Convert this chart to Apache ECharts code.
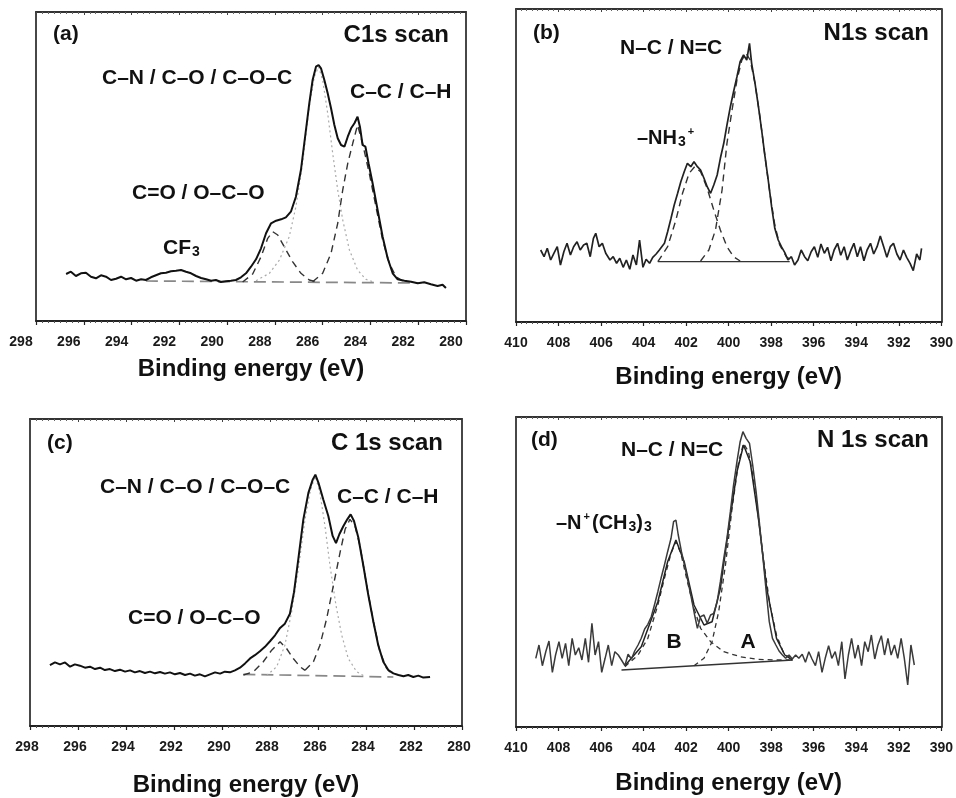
<!DOCTYPE html>
<html>
<head>
<meta charset="utf-8">
<script src="https://cdn.jsdelivr.net/npm/echarts@6/dist/echarts.min.js"></script>
<style>
html,body{margin:0;padding:0;background:#fff;}
#chart{width:956px;height:798px;}
</style>
</head>
<body>
<div id="chart"></div>
<script>
// ---- tick labels ----
const cTicks = [298, 296, 294, 292, 290, 288, 286, 284, 282, 280];
const nTicks = [410, 408, 406, 404, 402, 400, 398, 396, 394, 392, 390];

// ---- panel (a) C1s : [binding energy eV, intensity a.u.] ----
const aExp = [[296.74,47],[296.54,49.3],[296.33,45],[296.12,47.7],[295.91,48.3],[295.70,44.3],[295.49,42.7],[295.28,45.7],[295.07,44.3],[294.86,41],[294.65,42.3],[294.44,44.3],[294.23,41.7],[294.02,43],[293.81,40.3],[293.60,41.7],[293.40,41],[293.19,43.7],[292.98,45.7],[292.77,47.7],[292.56,48.3],[292.35,49.7],[292.14,50.3],[291.93,51],[291.72,49.3],[291.51,47.7],[291.30,45],[291.09,43],[290.88,41.7],[290.67,40.3],[290.47,41],[290.26,39],[290.05,39.7],[289.84,40.3],[289.63,41],[289.42,43.7],[289.21,47.7],[289.00,54.3],[288.79,61.7],[288.58,72.7],[288.37,87.7],[288.16,97.7],[287.95,100.3],[287.74,101.7],[287.54,103.7],[287.33,109.3],[287.12,124.3],[286.91,151],[286.70,191],[286.56,217.7],[286.42,241],[286.28,254.3],[286.17,256],[286.07,252.7],[285.93,241],[285.79,227.7],[285.65,212.7],[285.51,196],[285.37,182.7],[285.23,176],[285.09,174.3],[284.95,184.3],[284.81,192.7],[284.67,197.7],[284.54,204.3],[284.44,194.3],[284.33,176],[284.21,174.3],[284.08,157.7],[283.91,137.7],[283.70,111],[283.49,84.3],[283.28,62.7],[283.07,47.7],[282.86,41.7],[282.58,40.3],[282.30,39.3],[282.02,37.7],[281.75,38.7],[281.47,36.7],[281.19,35],[280.98,36.3],[280.84,33]];
const aCO = [[289.35,39],[288.93,47],[288.58,64.3],[288.30,82.7],[288.09,89.3],[287.88,86],[287.61,74.3],[287.26,59.3],[286.91,47.7],[286.56,41],[286.28,39.3]];
const aCN = [[288.79,40.3],[288.23,47.7],[287.81,61],[287.40,84.3],[287.12,114.3],[286.84,157.7],[286.56,214.3],[286.35,244.3],[286.17,254.3],[286.00,241],[285.79,207.7],[285.58,167.7],[285.37,131],[285.16,101],[284.88,71],[284.54,51],[284.19,41.7],[283.91,39.3]];
const aCC = [[286.42,39.3],[286.00,47.7],[285.65,67.7],[285.37,97.7],[285.16,131],[284.95,157.7],[284.74,177.7],[284.54,196],[284.33,177.7],[284.05,147.7],[283.77,114.3],[283.49,81],[283.21,57.7],[282.93,44.3],[282.65,40]];
const aBase = [[293.4,40],[282.0,38]];

// ---- panel (b) N1s ----
const bExp = [[408.84,72],[408.68,65.3],[408.53,73.7],[408.37,62],[408.22,68.7],[408.06,75.3],[407.91,57],[407.75,70.3],[407.60,78.7],[407.44,67],[407.29,75.3],[407.13,80.3],[406.98,72],[406.82,77],[406.67,78.7],[406.51,65.3],[406.36,83.7],[406.25,88.7],[406.09,75.3],[405.94,78.7],[405.78,68.7],[405.58,62],[405.43,65.3],[405.27,58.7],[405.12,63.7],[404.96,54.7],[404.81,62],[404.65,52.7],[404.50,67],[404.34,57],[404.19,82],[404.03,54.7],[403.88,62.7],[403.72,58.7],[403.57,64.7],[403.41,68],[403.26,72],[403.02,78.7],[402.87,90.3],[402.71,103.7],[402.56,117],[402.40,128.7],[402.25,140.3],[402.09,150.3],[401.94,158.7],[401.78,155.3],[401.63,160.3],[401.47,155.3],[401.32,152],[401.16,143.7],[401.01,135.3],[400.85,128.7],[400.70,137],[400.54,147],[400.39,163.7],[400.23,178.7],[400.08,197],[399.92,215.3],[399.77,230.3],[399.61,245.3],[399.46,260.3],[399.30,267],[399.15,262],[399.02,278.7],[398.92,258.7],[398.76,238.7],[398.60,215.3],[398.45,192],[398.29,165.3],[398.14,142],[397.98,115.3],[397.83,93.7],[397.67,82],[397.52,75.3],[397.36,69.3],[397.21,62],[397.05,65.3],[396.90,57],[396.74,62],[396.59,72],[396.43,65.3],[396.28,61.3],[396.12,70.3],[395.97,75.3],[395.81,64.7],[395.66,78],[395.50,68.7],[395.35,74.7],[395.19,61.3],[395.04,72],[394.88,78.7],[394.73,66.7],[394.57,75.3],[394.42,62],[394.26,71.3],[394.11,78.7],[393.95,65.3],[393.80,75.3],[393.64,61.3],[393.49,72],[393.33,78.7],[393.18,68],[393.02,75.3],[392.87,86],[392.71,75.3],[392.56,64.7],[392.40,75.3],[392.25,78.7],[392.09,68],[391.94,62],[391.78,72],[391.63,64.7],[391.47,58.7],[391.32,51.3],[391.16,68],[391.01,62],[390.93,73.7]];
const bNH3 = [[403.33,60.3],[402.87,75.3],[402.48,102],[402.17,128.7],[401.86,148.7],[401.60,155.3],[401.32,150.3],[401.01,133.7],[400.70,112],[400.39,92],[400.08,75.3],[399.77,65.3],[399.46,61]];
const bNC = [[401.32,61],[400.93,72],[400.62,92],[400.31,132],[400.08,178.7],[399.84,212],[399.61,242],[399.38,262],[399.18,268.7],[398.99,262],[398.76,238.7],[398.53,205.3],[398.29,165.3],[398.06,128.7],[397.83,97],[397.60,77],[397.29,65.3],[396.98,60.7]];
const bBase = [[403.33,60.3],[397.13,60.3]];

// ---- panel (c) C 1s ----
const cExp = [[297.17,61.3],[296.96,64],[296.75,62],[296.54,64],[296.33,59.7],[296.13,62],[295.92,60.7],[295.71,58.7],[295.50,59.7],[295.29,57.3],[295.08,58.7],[294.88,56.3],[294.67,57.3],[294.46,55.3],[294.25,56.7],[294.04,54.7],[293.83,56],[293.63,54],[293.42,55.3],[293.21,53.3],[293.00,54.7],[292.79,53],[292.58,54.3],[292.38,52.7],[292.17,54],[291.96,52],[291.75,53.3],[291.54,51.3],[291.33,52.7],[291.13,50.7],[290.92,52],[290.71,50],[290.50,52],[290.29,54],[290.08,52.7],[289.88,54.7],[289.67,54],[289.46,56],[289.25,58.7],[289.04,63],[288.83,68],[288.63,71.3],[288.42,75.3],[288.21,79.7],[288.00,85.3],[287.79,91.3],[287.58,98.7],[287.38,103],[287.17,113],[287.00,134.7],[286.82,168],[286.61,208],[286.40,234.7],[286.22,248],[286.11,253],[285.98,244.7],[285.78,228],[285.57,211.3],[285.39,191.3],[285.25,184],[285.11,193],[284.94,201.3],[284.78,208],[284.64,213],[284.50,206.3],[284.32,189.7],[284.11,161.3],[283.90,131.3],[283.69,104.7],[283.49,81.3],[283.28,64.7],[283.07,56.3],[282.86,53],[282.65,51.3],[282.44,50],[282.24,51.3],[282.03,49.3],[281.82,50.7],[281.61,48.7],[281.33,49.3]];
const cCO = [[289.11,51.3],[288.69,54.7],[288.28,64.7],[287.93,76.3],[287.58,84.7],[287.31,78],[287.03,68],[286.75,59.7],[286.54,56]];
const cCN = [[288.14,50.7],[287.72,59.7],[287.38,81.3],[287.10,114.7],[286.82,158],[286.54,208],[286.31,238],[286.11,251.3],[285.92,234.7],[285.71,201.3],[285.50,161.3],[285.25,121.3],[285.01,91.3],[284.74,68],[284.39,54.7],[284.11,50.7]];
const cCC = [[286.54,56],[286.19,64.7],[285.92,81.3],[285.64,108],[285.36,141.3],[285.08,174.7],[284.87,198],[284.67,208],[284.46,201.3],[284.25,181.3],[283.97,141.3],[283.69,104.7],[283.42,74.7],[283.14,58],[282.86,51.3]];
const cBase = [[289.11,52],[282.86,49.3]];

// ---- panel (d) N 1s ----
const dExp = [[409.07,68.7],[408.92,82],[408.76,61.3],[408.60,75.3],[408.45,86],[408.29,54.7],[408.14,72],[407.98,85.3],[407.83,68.7],[407.67,83.7],[407.52,61.3],[407.36,88.7],[407.21,72],[407.05,79.3],[406.90,67],[406.74,88.7],[406.59,64.7],[406.43,103.7],[406.28,72],[406.12,85.3],[405.97,54.7],[405.81,68.7],[405.66,82],[405.50,61.3],[405.35,75.3],[405.19,72],[405.04,67],[404.88,61.3],[404.73,72.7],[404.57,68],[404.42,76],[404.26,82],[404.11,88.7],[403.95,98],[403.80,102.7],[403.64,110.3],[403.49,122],[403.33,135.3],[403.18,148.7],[403.02,162],[402.87,175.3],[402.71,188.7],[402.59,205.3],[402.48,207],[402.37,192],[402.22,175.3],[402.06,160.3],[401.91,145.3],[401.75,128.7],[401.60,112],[401.47,98.7],[401.32,110.3],[401.16,112],[401.01,103.7],[400.85,112],[400.70,113.7],[400.54,125.3],[400.39,145.3],[400.23,168.7],[400.08,188.7],[399.92,215.3],[399.77,242],[399.61,265.3],[399.46,285.3],[399.33,295.3],[399.18,288.7],[399.02,283.7],[398.87,262],[398.71,235.3],[398.56,205.3],[398.40,172],[398.25,138.7],[398.09,105.3],[397.94,88.7],[397.78,82],[397.63,76],[397.47,72],[397.32,68.7],[397.16,72],[397.01,68],[396.85,72],[396.70,68.7],[396.54,72.7],[396.39,64.7],[396.23,75.3],[396.08,68],[395.92,61.3],[395.77,75.3],[395.61,54.7],[395.46,68.7],[395.30,81.3],[395.15,68.7],[394.99,75.3],[394.84,61.3],[394.68,85.3],[394.53,48],[394.37,72],[394.22,88.7],[394.06,68.7],[393.91,82],[393.75,61.3],[393.60,85.3],[393.44,75.3],[393.29,92],[393.13,68],[392.98,82],[392.82,91.3],[392.67,72],[392.51,88.7],[392.36,72],[392.20,82],[392.05,68.7],[391.89,88.7],[391.74,68.7],[391.58,42],[391.43,82],[391.27,62]];
const dFit = [[404.88,61.3],[404.11,80.3],[403.33,125.3],[402.87,165.3],[402.48,187],[402.09,165.3],[401.63,122],[401.16,102],[400.78,105.3],[400.39,138.7],[400.00,198.7],[399.61,255.3],[399.30,282],[398.99,265.3],[398.60,208.7],[398.21,138.7],[397.75,88.7],[397.36,72],[397.01,67]];
const dB = [[404.88,60.3],[404.26,72],[403.80,88.7],[403.33,122],[403.02,148.7],[402.71,173.7],[402.48,185.3],[402.25,173.7],[401.94,145.3],[401.63,118.7],[401.32,98.7],[400.85,85.3],[400.23,75.3],[399.46,70.3],[398.68,67.7],[397.75,67],[397.13,67]];
const dA = [[401.63,61.3],[401.16,68.7],[400.78,85.3],[400.47,115.3],[400.15,162],[399.84,218.7],[399.53,265.3],[399.30,283.7],[399.07,275.3],[398.84,248.7],[398.60,208.7],[398.37,168.7],[398.06,122],[397.75,92],[397.44,75.3],[397.05,67]];
const dBase = [[405.04,57],[396.98,67]];

// ---- chart ----
const FONT = "'Liberation Sans', Arial, Helvetica, sans-serif";
const chart = echarts.init(document.getElementById('chart'), null, {renderer: 'canvas'});

const grids = [
  {left: 36, top: 12, width: 430, height: 309},
  {left: 516, top: 9, width: 430, height: 313},
  {left: 30, top: 419, width: 432, height: 309},
  {left: 516, top: 417, width: 430, height: 310}
];
const yMax = [309, 313, 309, 310];
const ranges = [[280, 298, cTicks], [390, 410, nTicks], [280, 298, cTicks], [390, 410, nTicks]];
const nameGaps = [36, 43, 47, 44];
const labelPad = [[0, 30, 0, 0], 0, [0, 6, 0, 0], 0];

const xAxes = [], yAxes = [];
ranges.forEach((r, i) => {
  const ticks = r[2];
  xAxes.push({
    gridIndex: i, type: 'value', min: r[0], max: r[1], interval: 2, inverse: true, position: 'bottom',
    axisLine: {show: true, onZero: false, lineStyle: {color: '#222', width: 1.8}},
    axisTick: {show: true, inside: false, length: 4, lineStyle: {color: '#222', width: 1.2}},
    minorTick: {show: true, splitNumber: 8, length: 2, lineStyle: {color: '#555', width: 1}},
    splitLine: {show: false}, minorSplitLine: {show: false},
    axisLabel: {show: true, margin: 14, color: '#1a1a1a', fontFamily: FONT, fontWeight: 'bold', fontSize: 14,
      padding: labelPad[i],
      formatter: v => (ticks.indexOf(Math.round(v)) >= 0 ? String(Math.round(v)) : '')},
    name: 'Binding energy (eV)', nameLocation: 'middle', nameGap: nameGaps[i],
    nameTextStyle: {fontFamily: FONT, fontWeight: 'bold', fontSize: 24, color: '#111'}
  });
  xAxes.push({
    gridIndex: i, type: 'value', min: r[0], max: r[1], interval: 2, inverse: true, position: 'top',
    axisLine: {show: true, onZero: false, lineStyle: {color: '#333', width: 1.8}},
    axisTick: {show: true, inside: true, length: 3, lineStyle: {color: '#444'}},
    minorTick: {show: true, splitNumber: 8, length: 2, lineStyle: {color: '#666'}},
    axisLabel: {show: false}, splitLine: {show: false}
  });
  yAxes.push({
    gridIndex: i, type: 'value', min: 0, max: yMax[i],
    axisLine: {show: true, lineStyle: {color: '#333', width: 1.8}},
    axisTick: {show: false}, axisLabel: {show: false}, splitLine: {show: false}
  });
  yAxes.push({
    gridIndex: i, type: 'value', min: 0, max: yMax[i], position: 'right',
    axisLine: {show: true, lineStyle: {color: '#333', width: 1.8}},
    axisTick: {show: false}, axisLabel: {show: false}, splitLine: {show: false}
  });
});

function ln(i, data, style, z) {
  return {
    type: 'line', xAxisIndex: 2 * i, yAxisIndex: 2 * i, data: data,
    showSymbol: false, symbol: 'none', smooth: false, z: z || 2,
    lineStyle: style, silent: true
  };
}
const EXP = {color: '#111', width: 2};
const EXPN = {color: '#222', width: 1.7};
const DASH = {color: '#333', width: 1.4, type: [7, 5]};
const DOT = {color: '#aaa', width: 1.2, type: [2, 3]};
const BASED = {color: '#888', width: 1.7, type: [12, 6]};
const BASES = {color: '#333', width: 1.3};

const series = [
  ln(0, aBase, BASED, 1), ln(0, aCN, DOT, 1), ln(0, aCO, DASH, 1), ln(0, aCC, DASH, 1), ln(0, aExp, EXP, 3),
  ln(1, bBase, BASES, 1), ln(1, bNH3, DASH, 1), ln(1, bNC, DASH, 1), ln(1, bExp, EXPN, 3),
  ln(2, cBase, BASED, 1), ln(2, cCN, DOT, 1), ln(2, cCO, DASH, 1), ln(2, cCC, DASH, 1), ln(2, cExp, EXP, 3),
  ln(3, dBase, BASES, 1), ln(3, dB, {color: '#333', width: 1.3, type: [5, 4]}, 1), ln(3, dA, {color: '#333', width: 1.3, type: [5, 4]}, 1),
  ln(3, dFit, {color: '#222', width: 1.5}, 2), ln(3, dExp, {color: '#3a3a3a', width: 1.5}, 3)
];

function t(x, y, text, size, align, rich) {
  return {
    type: 'text', x: x, y: y, z: 10, silent: true,
    style: {
      text: text, fill: '#111', font: 'bold ' + size + 'px ' + FONT,
      fontFamily: FONT, fontWeight: 'bold', fontSize: size,
      textAlign: align || 'left', align: align || 'left',
      textVerticalAlign: 'middle', verticalAlign: 'middle',
      rich: rich || undefined
    }
  };
}
const subRich = {
  s: {fontFamily: FONT, fontWeight: 'bold', fontSize: 14, fill: '#111', color: '#111', padding: [9, 0, 0, 1]},
  p: {fontFamily: FONT, fontWeight: 'bold', fontSize: 11, fill: '#111', color: '#111', padding: [0, 2, 13, 2]}
};

const graphics = [
  t(53, 34, '(a)', 21), t(449, 35, 'C1s scan', 24, 'right'),
  t(102, 78, 'C–N / C–O / C–O–C', 21), t(350, 92, 'C–C / C–H', 21),
  t(132, 193, 'C=O / O–C–O', 21), t(163, 248, 'CF{s|3}', 21, 'left', subRich),
  t(533, 33, '(b)', 21), t(929, 33, 'N1s scan', 24, 'right'),
  t(620, 48, 'N–C / N=C', 21), t(637, 138, '–NH{s|3}{p|+}', 20, 'left', subRich),
  t(47, 443, '(c)', 21), t(443, 443, 'C 1s scan', 24, 'right'),
  t(100, 487, 'C–N / C–O / C–O–C', 21), t(337, 497, 'C–C / C–H', 21),
  t(128, 618, 'C=O / O–C–O', 21),
  t(531, 440, '(d)', 21), t(929, 440, 'N 1s scan', 24, 'right'),
  t(621, 450, 'N–C / N=C', 21), t(556, 523, '–N{p|+}(CH{s|3}){s|3}', 20, 'left', subRich),
  t(674, 642, 'B', 21, 'center'), t(748, 642, 'A', 21, 'center')
];

chart.setOption({
  animation: false,
  backgroundColor: '#fff',
  grid: grids.map(g => Object.assign({containLabel: false}, g)),
  xAxis: xAxes,
  yAxis: yAxes,
  series: series,
  graphic: graphics
});
</script>
</body>
</html>
